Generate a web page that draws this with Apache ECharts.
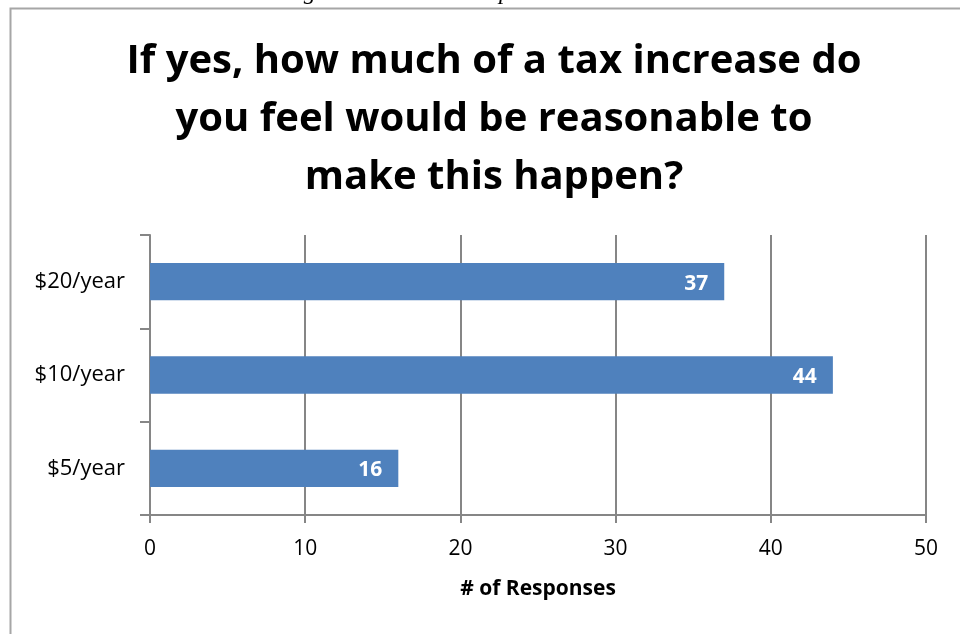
<!DOCTYPE html>
<html>
<head>
<meta charset="utf-8">
<script src="https://cdn.jsdelivr.net/npm/echarts@6/dist/echarts.min.js"></script>
<style>
  html, body { margin: 0; padding: 0; background: #ffffff; }
  #chart { width: 960px; height: 634px; }
</style>
</head>
<body>
<div id="chart"></div>
<script>
// Survey answers: how much of a yearly tax increase is acceptable
const categories = ['$5/year', '$10/year', '$20/year'];
const responses = [16, 44, 37];
const xTicks = { min: 0, max: 50, interval: 10 };

const titleLines = [
  'If yes, how much of a tax increase do',
  'you feel would be reasonable to',
  'make this happen?'
];
const pageCaption = 'a long Path needs to be updated.';

const FONT = '"Open Sans", "Noto Sans", sans-serif';
const AXIS_GRAY = '#868686';

const chart = echarts.init(document.getElementById('chart'), null, { renderer: 'canvas' });

chart.setOption({
  animation: false,
  backgroundColor: '#ffffff',
  title: {
    text: titleLines.join('\n'),
    left: 489,
    top: 28,
    textAlign: 'center',
    textStyle: {
      fontFamily: FONT,
      fontWeight: 'bold',
      fontSize: 40,
      lineHeight: 58,
      color: '#000000'
    }
  },
  graphic: [
    // page frame around the chart object
    {
      type: 'rect',
      shape: { x: 10.5, y: 8.5, width: 1000, height: 700 },
      style: { fill: 'none', stroke: '#a6a6a6', lineWidth: 2 },
      silent: true
    },
    // document text running above the chart, clipped by the page top
    {
      type: 'text',
      left: 255,
      top: -19,
      style: {
        text: pageCaption,
        font: 'italic 24px "Liberation Serif", "DejaVu Serif", serif',
        fill: '#000000'
      },
      silent: true
    }
  ],
  grid: {
    left: 150,
    right: 34,
    top: 235,
    bottom: 119,
    containLabel: false
  },
  xAxis: {
    type: 'value',
    min: xTicks.min,
    max: xTicks.max,
    interval: xTicks.interval,
    name: '# of Responses',
    nameLocation: 'middle',
    nameGap: 64,
    nameTextStyle: {
      fontFamily: FONT,
      fontWeight: 'bold',
      fontSize: 21,
      color: '#000000'
    },
    axisLine: { show: true, lineStyle: { color: AXIS_GRAY, width: 2 } },
    axisTick: { show: true, length: 8, lineStyle: { color: AXIS_GRAY, width: 2 } },
    axisLabel: {
      margin: 24,
      fontFamily: FONT,
      fontSize: 21,
      color: '#000000'
    },
    splitLine: { show: true, lineStyle: { color: AXIS_GRAY, width: 2 } }
  },
  yAxis: {
    type: 'category',
    data: categories,
    axisLine: { show: true, lineStyle: { color: AXIS_GRAY, width: 2 } },
    axisTick: { show: true, length: 10, inside: false, lineStyle: { color: AXIS_GRAY, width: 2 } },
    axisLabel: {
      margin: 25,
      fontFamily: FONT,
      fontSize: 22,
      color: '#000000'
    },
    splitLine: { show: false }
  },
  series: [{
    type: 'bar',
    data: responses,
    barCategoryGap: '60%',
    itemStyle: { color: '#4f81bd' },
    label: {
      show: true,
      position: 'insideRight',
      distance: 16,
      offset: [0, 2],
      fontFamily: FONT,
      fontWeight: 'bold',
      fontSize: 21,
      color: '#ffffff'
    }
  }]
});
</script>
</body>
</html>
